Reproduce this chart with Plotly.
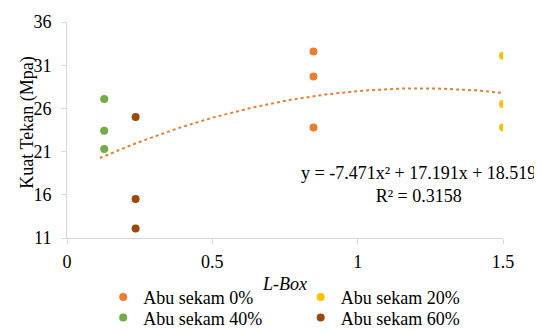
import numpy as np
import plotly.graph_objects as go

# Data
series_names = ["Abu sekam 0%", "Abu sekam 20%", "Abu sekam 40%", "Abu sekam 60%"]
lbox_0 = [0.848, 0.848, 0.848]
kuat_0 = [32.6, 29.7, 23.8]
lbox_20 = [1.5, 1.5, 1.5]
kuat_20 = [32.1, 26.5, 23.8]
lbox_40 = [0.128, 0.128, 0.128]
kuat_40 = [27.1, 23.4, 21.3]
lbox_60 = [0.236, 0.236, 0.236]
kuat_60 = [25.0, 15.5, 12.1]
colors = ["#ED7D31", "#FFC000", "#70AD47", "#9E480E"]
y_ticks = [11, 16, 21, 26, 31, 36]
x_ticks = [0, 0.5, 1, 1.5]
eq_text = "y = -7.471x² + 17.191x + 18.519<br>R² = 0.3158"
y_title = "Kuat Tekan (Mpa)"
x_title = "<i>L-Box</i>"

FONT = "Times New Roman, Liberation Serif, DejaVu Serif, serif"
FS = 18

# legend placement (paper coords): one legend per entry, 2x2 grid
legend_ids = ["legend", "legend2", "legend3", "legend4"]
legend_pos = [(0.083, -0.275), (0.536, -0.275), (0.083, -0.37), (0.536, -0.37)]

fig = go.Figure()
xs_all = [lbox_0, lbox_20, lbox_40, lbox_60]
ys_all = [kuat_0, kuat_20, kuat_40, kuat_60]
for name, xs, ys, c, lg in zip(series_names, xs_all, ys_all, colors, legend_ids):
    fig.add_trace(go.Scatter(x=xs, y=ys, mode="markers", name=name, legend=lg,
                             marker=dict(color=c, size=8, line=dict(width=0))))

# Polynomial (order 2) trendline fitted to all points
allx = np.concatenate([np.array(v) for v in xs_all])
ally = np.concatenate([np.array(v) for v in ys_all])
coef = np.polyfit(allx, ally, 2)
tx = np.linspace(allx.min() - 0.015, allx.max() + 0.01, 120)
ty = np.polyval(coef, tx)
fig.add_trace(go.Scatter(x=tx, y=ty, mode="lines", showlegend=False,
                         line=dict(color="#ED7D31", width=2, dash="dot"),
                         hoverinfo="skip"))

fig.add_annotation(x=1.208, y=17.2, xref="x", yref="y", text=eq_text,
                   showarrow=False, font=dict(family=FONT, size=FS, color="#000000"),
                   align="center")
fig.add_annotation(x=-0.0905, y=0.532, xref="paper", yref="paper", text=y_title,
                   textangle=-90, showarrow=False, xanchor="center", yanchor="middle",
                   font=dict(family=FONT, size=FS, color="#000000"))

legends = {}
for lg, (lx, ly) in zip(legend_ids, legend_pos):
    legends[lg] = dict(orientation="v", x=lx, y=ly, xanchor="left", yanchor="middle",
                       font=dict(family=FONT, size=FS, color="#000000"),
                       itemwidth=30, bgcolor="rgba(0,0,0,0)")

fig.update_layout(
    width=534, height=325,
    margin=dict(l=58.5, r=39, t=13.7, b=95, autoexpand=False),
    paper_bgcolor="white", plot_bgcolor="white",
    font=dict(family=FONT, size=FS, color="#000000"),
    showlegend=True,
    **legends,
)
fig.update_xaxes(range=[0, 1.5], tickvals=x_ticks, ticktext=[str(v) for v in x_ticks],
                 showgrid=False, zeroline=False, showline=True, linecolor="#D9D9D9",
                 linewidth=1, ticks="outside", ticklen=5, tickcolor="#D9D9D9",
                 ticklabelstandoff=2,
                 title=dict(text=x_title, font=dict(family=FONT, size=FS), standoff=6))
fig.update_yaxes(range=[11, 36], tickvals=y_ticks, showgrid=False, zeroline=False,
                 showline=True, linecolor="#D9D9D9", linewidth=1, ticks="outside",
                 ticklen=5, tickcolor="#D9D9D9", ticklabelstandoff=6)

fig.write_html("out.html")
